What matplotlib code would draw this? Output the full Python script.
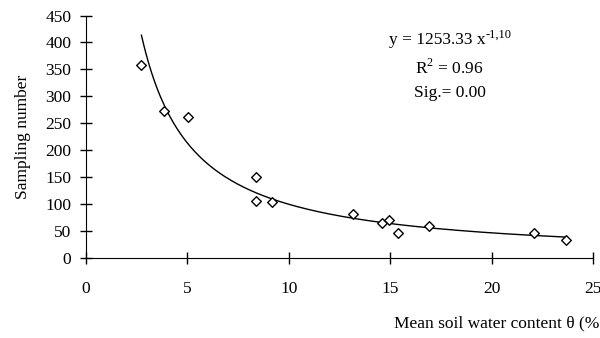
import numpy as np
import matplotlib
matplotlib.use("Agg")
import matplotlib.pyplot as plt

plt.rcParams['font.family'] = ['Liberation Serif', 'DejaVu Serif']

# observed points
theta = [2.73, 3.85, 5.05, 8.37, 8.37, 9.19, 13.15, 14.58, 14.94, 15.4, 16.9, 22.06, 23.65]
samples = [358, 273, 262, 150, 105, 103, 81, 65, 70, 46, 59, 46, 34]

# power fit y = a x^b
a = 1253.33
b = -1.10

fig = plt.figure(figsize=(6, 3.38), dpi=100)
ax = fig.add_axes([0.143, 0.237, 0.846, 0.717])

xs = np.linspace(2.74, 23.65, 200)
ax.plot(xs, a * xs ** b, color='black', lw=1.0)
ax.scatter(theta, samples, marker='D', s=24, facecolor='white', edgecolor='black', lw=1.0, zorder=3)

ax.set_xlim(0, 25)
ax.set_ylim(0, 450)
ax.set_xticks(range(0, 26, 5))
ax.set_yticks(range(0, 451, 50))
for s in ['top', 'right']:
    ax.spines[s].set_visible(False)
ax.tick_params(axis='both', direction='inout', length=9, width=1.0, labelsize=12.5)
ax.tick_params(axis='x', pad=12)
ax.tick_params(axis='y', pad=6)

ax.set_ylabel('Sampling number', fontsize=12.5, labelpad=10)
fig.text(0.999, 0.03, 'Mean soil water content θ (%', ha='right', va='baseline', fontsize=12.5)

t = ax.text(0.692, 0.90, 'y = 1253.33 x', transform=ax.transAxes, ha='center', va='center', fontsize=12.5)
ax.annotate('-1,10', xy=(1, 1), xycoords=t, xytext=(0, 2), textcoords='offset points',
            ha='left', va='top', fontsize=9)
ax.text(0.717, 0.784, r'R$^{\mathregular{2}}$ = 0.96', transform=ax.transAxes, ha='center', va='center', fontsize=12.5)
ax.text(0.717, 0.681, 'Sig.= 0.00', transform=ax.transAxes, ha='center', va='center', fontsize=12.5)

fig.savefig('out.png', dpi=100)
